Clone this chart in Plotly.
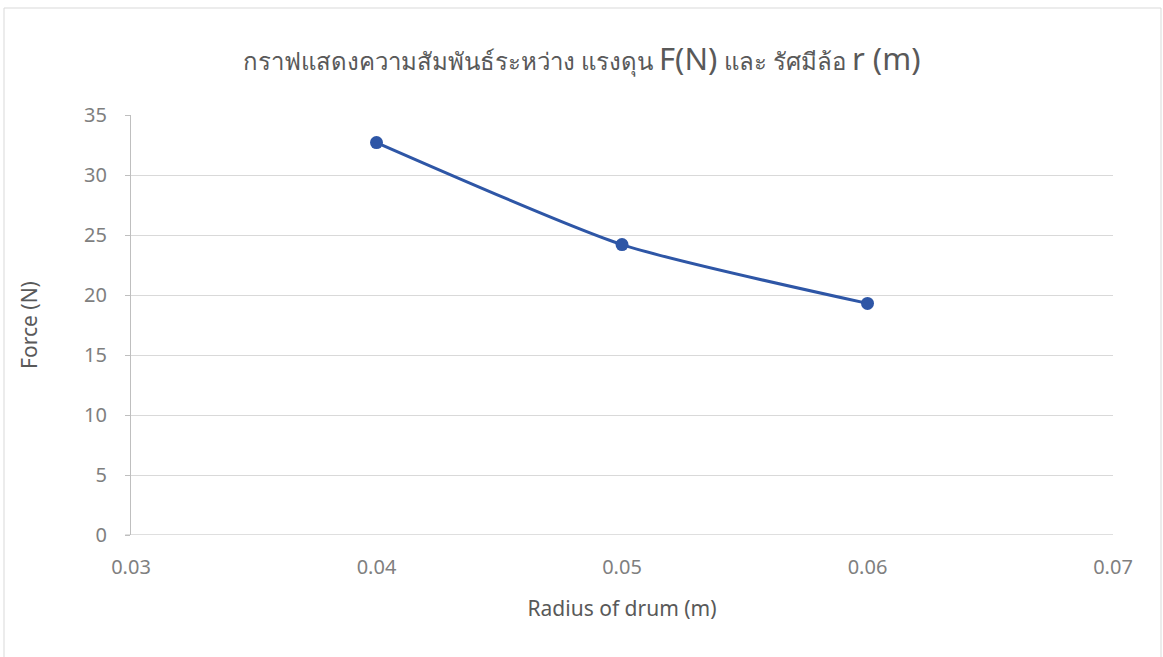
import plotly.graph_objects as go

# Drum radius (m) and the pulling force measured for each (N)
radius_m = [0.04, 0.05, 0.06]
force_n = [32.7, 24.2, 19.3]

x_ticks = [0.03, 0.04, 0.05, 0.06, 0.07]
y_ticks = [0, 5, 10, 15, 20, 25, 30, 35]

W, H = 1163, 657
L, R, T, B = 131, 50, 115, 122
pw, ph = W - L - R, H - T - B

line_color = "#2E56A6"
text_color = "#595959"
tick_color = "#7F7F7F"
grid_color = "#D9D9D9"

fig = go.Figure()
fig.add_trace(go.Scatter(
    x=radius_m, y=force_n, mode="lines+markers",
    line=dict(color=line_color, width=3, shape="spline", smoothing=0.6),
    marker=dict(color=line_color, size=13),
    showlegend=False,
))

title_text = (
    "กราฟแสดงความสัมพันธ์ระหว่าง แรงดุน "
    "<span style='font-size:31px'>F(N)</span> และ รัศมีล้อ "
    "<span style='font-size:31px'>r (m)</span>"
)

fig.update_layout(
    width=W, height=H,
    margin=dict(l=L, r=R, t=T, b=B),
    paper_bgcolor="white", plot_bgcolor="white",
    font=dict(family="Noto Sans, Open Sans, sans-serif", color=text_color),
    title=dict(text=title_text, x=0.5, xanchor="center", y=0.906, yanchor="middle",
               font=dict(size=24, color=text_color)),
    xaxis=dict(
        range=[0.03, 0.07], tickvals=x_ticks, ticktext=[f"{v:.2f}" for v in x_ticks],
        showgrid=False, zeroline=False, showline=False,
        ticks="", ticklabelstandoff=18, tickfont=dict(size=20, color=tick_color),
        title=dict(text="Radius of drum (m)", font=dict(size=21, color=text_color), standoff=22),
    ),
    yaxis=dict(
        range=[0, 35], tickvals=y_ticks,
        showgrid=True, gridcolor=grid_color, gridwidth=1,
        zeroline=False, showline=True, linecolor="#BFBFBF", linewidth=1,
        ticks="outside", ticklen=5, tickcolor="#BFBFBF", ticklabelstandoff=14,
        tickfont=dict(size=20, color=tick_color),
        title=dict(text="Force (N)", font=dict(size=21, color=text_color), standoff=40),
    ),
    shapes=[
        # horizontal axis line at y = 0
        dict(type="line", xref="paper", yref="y", x0=-0.006, x1=1, y0=0, y1=0,
             line=dict(color="#BFBFBF", width=1)),
        # chart area frame
        dict(type="rect", xref="paper", yref="paper",
             x0=(4 - L) / pw, x1=(1161 - L) / pw,
             y0=(H - B - 660) / ph, y1=(H - B - 8) / ph,
             line=dict(color="#D9D9D9", width=1)),
    ],
)

fig.write_html("out.html")
